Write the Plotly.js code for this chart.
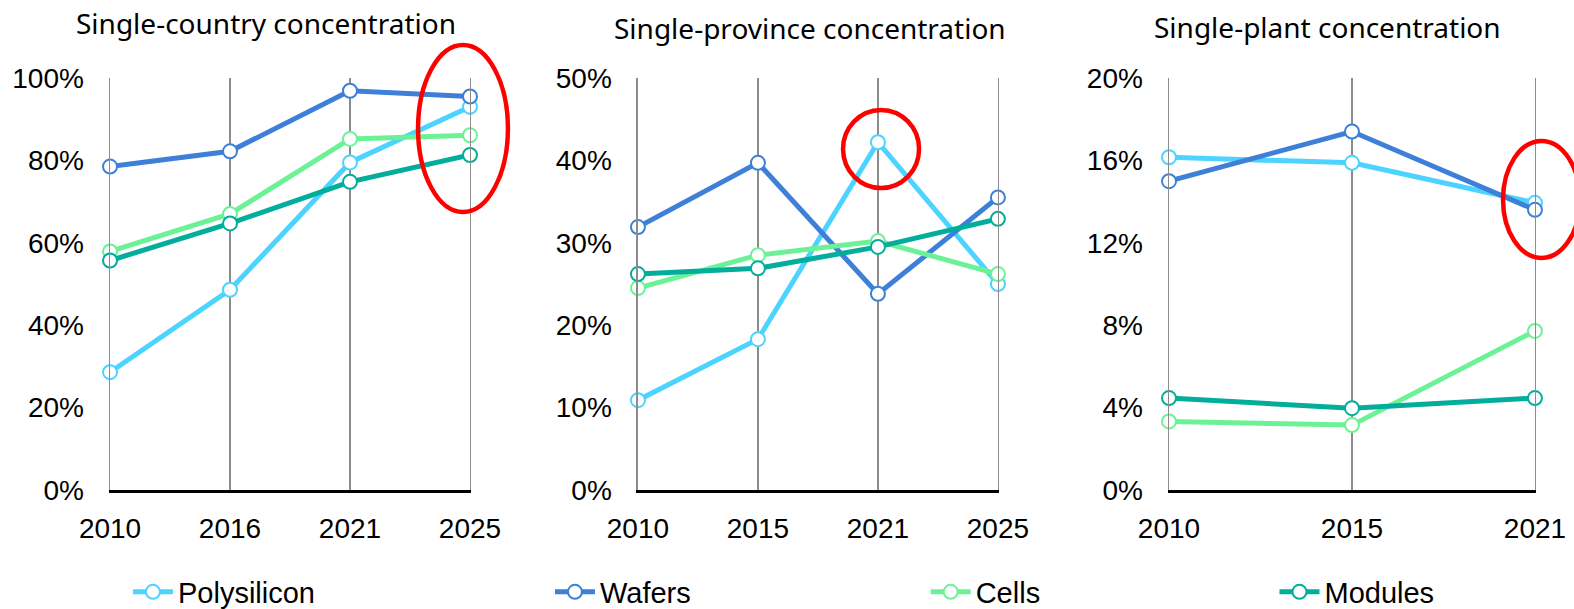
<!DOCTYPE html>
<html>
<head>
<meta charset="utf-8">
<script src="https://cdn.plot.ly/plotly-3.0.1.min.js"></script>
<style>html,body{margin:0;padding:0;background:#fff;}#chart{width:1574px;height:609px;}</style>
</head>
<body>
<div id="chart"></div>
<script>
// ---- Data ----
const seriesNames = ["Polysilicon", "Wafers", "Cells", "Modules"];
const seriesColors = ["#4cd3ff", "#3e7fd8", "#6cf296", "#02ad9c"];

const countryYears = ["2010", "2016", "2021", "2025"];
const countryPolysilicon = [0.286, 0.486, 0.795, 0.930];
const countryWafers      = [0.785, 0.822, 0.969, 0.955];
const countryCells       = [0.579, 0.670, 0.852, 0.861];
const countryModules     = [0.557, 0.647, 0.748, 0.813];

const provinceYears = ["2010", "2015", "2021", "2025"];
const provincePolysilicon = [0.109, 0.183, 0.422, 0.250];
const provinceWafers      = [0.319, 0.397, 0.238, 0.355];
const provinceCells       = [0.245, 0.285, 0.302, 0.262];
const provinceModules     = [0.262, 0.269, 0.295, 0.329];

const plantYears = ["2010", "2015", "2021"];
const plantPolysilicon = [0.1615, 0.1588, 0.1394];
const plantWafers      = [0.1499, 0.1740, 0.1360];
const plantCells       = [0.0333, 0.0315, 0.0772];
const plantModules     = [0.0446, 0.0397, 0.0446];

const panelTitles = ["Single-country concentration", "Single-province concentration", "Single-plant concentration"];

// ---- Build ----
const panels = [
  {years: countryYears, vals: [countryPolysilicon, countryWafers, countryCells, countryModules], xa: "x", ya: "y"},
  {years: provinceYears, vals: [provincePolysilicon, provinceWafers, provinceCells, provinceModules], xa: "x2", ya: "y2"},
  {years: plantYears, vals: [plantPolysilicon, plantWafers, plantCells, plantModules], xa: "x3", ya: "y3"}
];
const legendIds = ["legend", "legend2", "legend3", "legend4"];

const traces = [];
panels.forEach((p, pi) => {
  p.vals.forEach((v, si) => {
    traces.push({
      type: "scatter", mode: "lines+markers",
      x: p.years, y: v, xaxis: p.xa, yaxis: p.ya,
      name: seriesNames[si],
      line: {color: seriesColors[si], width: 5},
      marker: {symbol: "circle", size: 14, color: "#ffffff", line: {color: seriesColors[si], width: 2}},
      cliponaxis: false,
      showlegend: pi === 0,
      legend: legendIds[si],
      hoverinfo: "skip"
    });
  });
});

const tickFont = {family: "Liberation Sans, Arial, sans-serif", size: 28, color: "#000"};
function xaxis(domain, n) {
  return {domain: domain, type: "category", range: [0, n - 1], showgrid: true, gridcolor: "#8c8c8c", gridwidth: 1.5,
    showline: true, linecolor: "#000", linewidth: 2.5, ticks: "", tickfont: tickFont, ticklabelstandoff: 12,
    zeroline: false, fixedrange: true};
}
function yaxis(anchor, max, dtick, fmt) {
  return {anchor: anchor, domain: [0.1954, 0.872], range: [0, max], dtick: dtick, tick0: 0, tickformat: fmt,
    showgrid: false, zeroline: false, showline: true, mirror: true, linecolor: "#8c8c8c", linewidth: 1.5,
    ticks: "", tickfont: tickFont, ticklabelstandoff: 19, fixedrange: true};
}

const titleFont = {family: "Noto Sans, Open Sans, sans-serif", size: 28, color: "#000"};
const legendFont = {family: "Liberation Sans, Arial, sans-serif", size: 29, color: "#000"};
const legendXs = [0.0813, 0.3494, 0.5881, 0.8097];

const layout = {
  width: 1574, height: 609,
  margin: {l: 0, r: 0, t: 0, b: 0, autoexpand: false},
  paper_bgcolor: "#fff", plot_bgcolor: "#fff",
  xaxis: Object.assign(xaxis([0.0699, 0.2986], 4), {anchor: "y"}),
  yaxis: yaxis("x", 1.0, 0.2, ".0%"),
  xaxis2: Object.assign(xaxis([0.4053, 0.6340], 4), {anchor: "y2"}),
  yaxis2: yaxis("x2", 0.5, 0.1, ".0%"),
  xaxis3: Object.assign(xaxis([0.7427, 0.9752], 3), {anchor: "y3"}),
  yaxis3: yaxis("x3", 0.2, 0.04, ".0%"),
  annotations: [
    {text: panelTitles[0], xref: "paper", yref: "paper", x: 266/1574, y: 1 - 23/609, xanchor: "center", yanchor: "middle", showarrow: false, font: titleFont},
    {text: panelTitles[1], xref: "paper", yref: "paper", x: 810/1574, y: 1 - 28/609, xanchor: "center", yanchor: "middle", showarrow: false, font: titleFont},
    {text: panelTitles[2], xref: "paper", yref: "paper", x: 1327/1574, y: 1 - 27/609, xanchor: "center", yanchor: "middle", showarrow: false, font: titleFont}
  ],
  shapes: [
    {type: "circle", xref: "paper", yref: "paper", x0: 0.2656, x1: 0.3227, y0: 0.6519, y1: 0.9261, line: {color: "#ff0000", width: 4.5}},
    {type: "circle", xref: "paper", yref: "paper", x0: 0.5356, x1: 0.5839, y0: 0.6913, y1: 0.8194, line: {color: "#ff0000", width: 4.5}},
    {type: "circle", xref: "paper", yref: "paper", x0: 0.9549, x1: 1.0038, y0: 0.5764, y1: 0.7685, line: {color: "#ff0000", width: 4.5}}
  ]
};
legendIds.forEach((id, i) => {
  layout[id] = {orientation: "h", x: legendXs[i], xanchor: "left", y: 17/609, yanchor: "middle",
    font: legendFont, bgcolor: "rgba(0,0,0,0)", itemwidth: 40, itemclick: false, itemdoubleclick: false};
});

Plotly.newPlot("chart", traces, layout, {displayModeBar: false, staticPlot: true});
</script>
</body>
</html>
